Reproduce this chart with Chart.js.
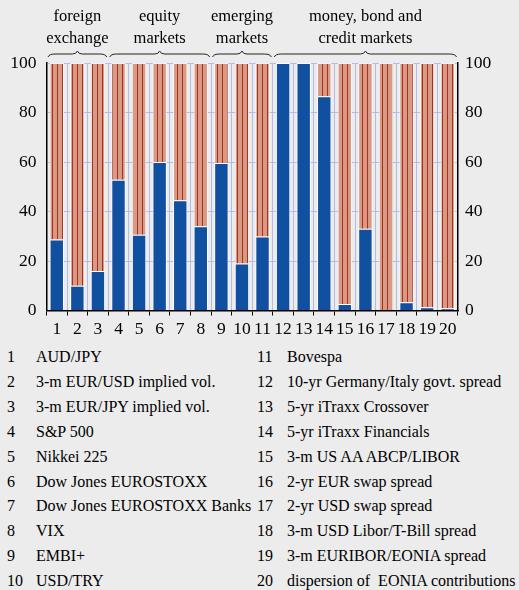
<!DOCTYPE html>
<html>
<head>
<meta charset="utf-8">
<script src="https://cdn.jsdelivr.net/npm/chart.js@4.4.0/dist/chart.umd.min.js"></script>
<style>
  body { margin: 0; background: #ececec; width: 519px; height: 590px; overflow: hidden;
         font-family: 'Liberation Serif', 'Times New Roman', serif; color: #000; }
  #wrap { position: relative; width: 519px; height: 340px; }
  #legend { position: absolute; left: 0; top: 344px; width: 519px; height: 246px; }
  .item { position: absolute; font-family: 'Liberation Serif', 'Times New Roman', serif; font-size: 16px;
          line-height: 25px; white-space: pre; }
  .num { position: absolute; left: 0; }
  .txt { position: absolute; }
</style>
</head>
<body>
<div id="wrap"><canvas id="myChart" width="519" height="340"></canvas></div>
<div id="legend"></div>
<script>
// share of each indicator (blue = lower part, red hatched = remainder)
const labels = ['1','2','3','4','5','6','7','8','9','10','11','12','13','14','15','16','17','18','19','20'];
const blueValues = [28.7, 10, 16, 52.8, 30.6, 60, 44.5, 34, 59.6, 19, 29.9, 100, 100, 86.6, 2.6, 33, 0, 3.3, 1.3, 0.9];
const redValues  = [71.3, 90, 84, 47.2, 69.4, 40, 55.5, 66, 40.4, 81, 70.1, 0, 0, 13.4, 97.4, 67, 100, 96.7, 98.7, 99.1];
const yTicks = [0, 20, 40, 60, 80, 100];

const groupNames = [['foreign', 'exchange'], ['equity', 'markets'], ['emerging', 'markets'], ['money, bond and', 'credit markets']];
const groupStart = [0, 3, 8, 11];
const groupEnd   = [2, 7, 10, 19];

const names = ['AUD/JPY', '3-m EUR/USD implied vol.', '3-m EUR/JPY implied vol.', 'S&P 500', 'Nikkei 225',
  'Dow Jones EUROSTOXX', 'Dow Jones EUROSTOXX Banks', 'VIX', 'EMBI+', 'USD/TRY',
  'Bovespa', '10-yr Germany/Italy govt. spread', '5-yr iTraxx Crossover', '5-yr iTraxx Financials',
  '3-m US AA ABCP/LIBOR', '2-yr EUR swap spread', '2-yr USD swap spread', '3-m USD Libor/T-Bill spread',
  '3-m EURIBOR/EONIA spread', 'dispersion of  EONIA contributions'];

const serif = "'Liberation Serif', 'Times New Roman', serif";

// striped fill for the red part
var stripeCanvas = document.createElement('canvas');
stripeCanvas.width = 5; stripeCanvas.height = 10;
var sg = stripeCanvas.getContext('2d');
sg.fillStyle = '#d99a85';
sg.fillRect(0, 0, 5, 10);
sg.fillStyle = '#a8301f';
sg.fillRect(2, 0, 1, 10);

var ctx0 = document.getElementById('myChart').getContext('2d');
var hatch = ctx0.createPattern(stripeCanvas, 'repeat');

// group headings with braces
const groupPlugin = {
  id: 'groups',
  afterDraw(chart) {
    var ctx = chart.ctx, x = chart.scales.x;
    var half = (x.getPixelForValue(1) - x.getPixelForValue(0)) / 2;
    ctx.save();
    ctx.fillStyle = '#000';
    ctx.strokeStyle = '#222';
    ctx.lineWidth = 1;
    ctx.font = '16.5px ' + serif;
    ctx.textAlign = 'center';
    ctx.textBaseline = 'middle';
    for (var i = 0; i < groupNames.length; i++) {
      var x1 = x.getPixelForValue(groupStart[i]) - half + 1.5;
      var x2 = x.getPixelForValue(groupEnd[i]) + half - 1.5;
      var xm = (x1 + x2) / 2, y = 51;
      ctx.fillText(groupNames[i][0], xm, 17);
      ctx.fillText(groupNames[i][1], xm, 39);
      ctx.beginPath();
      ctx.moveTo(x1, y + 6);
      ctx.quadraticCurveTo(x1 + 1, y + 3, x1 + 7, y + 3);
      ctx.lineTo(xm - 5, y + 3);
      ctx.quadraticCurveTo(xm - 1, y + 3, xm, y);
      ctx.quadraticCurveTo(xm + 1, y + 3, xm + 5, y + 3);
      ctx.lineTo(x2 - 7, y + 3);
      ctx.quadraticCurveTo(x2 - 1, y + 3, x2, y + 6);
      ctx.stroke();
    }
    ctx.restore();
  }
};

const tickFont = { family: serif, size: 17.5 };

var myChart = new Chart(ctx0, {
  type: 'bar',
  data: {
    labels: labels,
    datasets: [
      { data: blueValues, backgroundColor: '#1150a0', borderColor: 'rgba(255,255,255,0.95)', borderWidth: 1,
        barPercentage: 0.7, categoryPercentage: 1 },
      { data: redValues, backgroundColor: hatch, borderColor: 'rgba(255,255,255,0.8)', borderWidth: 1,
        barPercentage: 0.7, categoryPercentage: 1 }
    ]
  },
  options: {
    responsive: false,
    animation: false,
    layout: { padding: { top: 63, left: 0, right: 0, bottom: 0 } },
    plugins: { legend: { display: false }, tooltip: { enabled: false } },
    scales: {
      x: {
        stacked: true,
        grid: { offset: true, color: '#b3bbea', tickColor: '#000', tickLength: 5 },
        border: { color: '#000', width: 1.5 },
        ticks: { color: '#000', font: tickFont, padding: 3, maxRotation: 0, autoSkip: false },
        afterFit: function (s) { s.height = 29.5; }
      },
      y: {
        stacked: true, min: 0, max: 100,
        afterBuildTicks: function (s) { s.ticks = yTicks.map(v => ({ value: v })); },
        grid: { color: '#b3bbea', drawTicks: false },
        border: { color: '#000', width: 1.5 },
        ticks: { color: '#000', font: tickFont, padding: 10 },
        afterFit: function (s) { s.width = 46.5; }
      },
      y2: {
        position: 'right', min: 0, max: 100,
        afterBuildTicks: function (s) { s.ticks = yTicks.map(v => ({ value: v })); },
        grid: { drawOnChartArea: false, drawTicks: false },
        border: { color: '#000', width: 1.5 },
        ticks: { color: '#000', font: tickFont, padding: 7 },
        afterFit: function (s) { s.width = 61; }
      }
    }
  },
  plugins: [groupPlugin]
});

// numbered legend in two columns
var leg = document.getElementById('legend');
names.forEach(function (n, i) {
  var col = i < 10 ? 0 : 1, row = i % 10;
  var d = document.createElement('div');
  d.className = 'item';
  d.style.left = (col ? 257 : 7) + 'px';
  d.style.top = (row * 24.9) + 'px';
  d.innerHTML = '<span class="num"></span><span class="txt"></span>';
  d.children[0].textContent = String(i + 1);
  d.children[1].textContent = n;
  d.children[1].style.left = (col ? 30 : 29) + 'px';
  leg.appendChild(d);
});
</script>
</body>
</html>
